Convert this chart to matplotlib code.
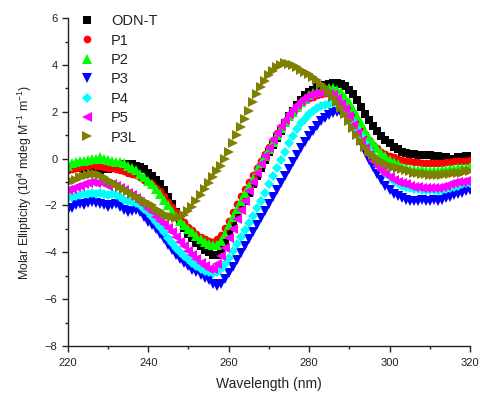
import numpy as np
import matplotlib
matplotlib.use("Agg")
import matplotlib.pyplot as plt
from matplotlib.ticker import MultipleLocator

plt.rcParams['font.family'] = ['Liberation Sans', 'DejaVu Sans']
plt.rcParams['mathtext.fontset'] = 'custom'
plt.rcParams['mathtext.rm'] = 'Liberation Sans'
plt.rcParams['mathtext.it'] = 'Liberation Sans:italic'

# --- data: wavelength 220..320 nm, 1 nm step ---
wavelength = list(range(220, 321))

odn_t = [-0.35, -0.4, -0.35, -0.4, -0.45, -0.4, -0.4, -0.45, -0.5, -0.45,
         -0.45, -0.4, -0.35, -0.3, -0.25, -0.25, -0.25, -0.3, -0.35, -0.45,
         -0.6, -0.75, -0.9, -1.1, -1.35, -1.65, -1.95, -2.3, -2.65, -2.95,
         -3.2, -3.4, -3.6, -3.75, -3.9, -4.0, -4.1, -4.1, -3.85, -3.55,
         -3.2, -2.85, -2.5, -2.15, -1.8, -1.45, -1.1, -0.75, -0.4, -0.05,
         0.3, 0.6, 0.9, 1.2, 1.5, 1.8, 2.05, 2.3, 2.5, 2.7,
         2.85, 2.95, 3.05, 3.1, 3.15, 3.2, 3.25, 3.25, 3.2, 3.1,
         2.95, 2.75, 2.5, 2.2, 1.9, 1.65, 1.4, 1.2, 0.95, 0.8,
         0.65, 0.5, 0.4, 0.3, 0.25, 0.2, 0.2, 0.15, 0.15, 0.15,
         0.15, 0.1, 0.1, 0.05, 0.05, 0.0, 0.0, 0.05, 0.05, 0.1, 0.1]

p1 = [-0.5, -0.45, -0.4, -0.35, -0.3, -0.3, -0.25, -0.3, -0.3, -0.35,
      -0.4, -0.4, -0.45, -0.5, -0.55, -0.6, -0.65, -0.7, -0.8, -0.9,
      -1.0, -1.1, -1.25, -1.4, -1.6, -1.85, -2.05, -2.3, -2.5, -2.7,
      -2.9, -3.05, -3.2, -3.35, -3.45, -3.5, -3.55, -3.45, -3.25, -2.95,
      -2.65, -2.3, -1.95, -1.6, -1.3, -1.0, -0.7, -0.4, -0.1, 0.2,
      0.5, 0.8, 1.1, 1.35, 1.6, 1.85, 2.05, 2.25, 2.4, 2.5,
      2.6, 2.65, 2.7, 2.75, 2.8, 2.8, 2.75, 2.7, 2.6, 2.45,
      2.2, 1.95, 1.65, 1.35, 1.05, 0.8, 0.6, 0.45, 0.3, 0.2,
      0.1, 0.05, 0.0, -0.05, -0.1, -0.1, -0.15, -0.15, -0.2, -0.2,
      -0.2, -0.2, -0.2, -0.2, -0.15, -0.15, -0.1, -0.1, -0.1, -0.1, -0.05]

p2 = [-0.3, -0.2, -0.15, -0.1, -0.1, -0.05, 0.0, 0.0, 0.05, 0.0,
      -0.05, -0.1, -0.15, -0.15, -0.2, -0.3, -0.4, -0.5, -0.65, -0.8,
      -0.95, -1.1, -1.3, -1.5, -1.75, -2.0, -2.25, -2.45, -2.65, -2.85,
      -3.0, -3.15, -3.3, -3.45, -3.55, -3.65, -3.7, -3.7, -3.5, -3.2,
      -2.85, -2.5, -2.15, -1.8, -1.45, -1.15, -0.85, -0.5, -0.2, 0.1,
      0.4, 0.7, 1.0, 1.3, 1.55, 1.8, 2.0, 2.2, 2.4, 2.55,
      2.7, 2.8, 2.85, 2.9, 2.95, 3.0, 3.0, 2.95, 2.85, 2.65,
      2.4, 2.1, 1.8, 1.5, 1.2, 0.9, 0.65, 0.45, 0.25, 0.1,
      -0.05, -0.15, -0.25, -0.35, -0.4, -0.45, -0.5, -0.5, -0.5, -0.55,
      -0.55, -0.55, -0.55, -0.5, -0.5, -0.45, -0.45, -0.4, -0.4, -0.4, -0.35]

p3 = [-2.2, -2.1, -2.0, -1.95, -2.0, -1.9, -1.85, -1.9, -1.95, -2.0,
      -2.05, -2.0, -1.95, -2.05, -2.2, -2.3, -2.25, -2.2, -2.3, -2.5,
      -2.7, -2.85, -3.0, -3.2, -3.45, -3.7, -3.9, -4.1, -4.3, -4.45,
      -4.6, -4.75, -4.85, -4.95, -5.1, -5.2, -5.35, -5.45, -5.35, -5.15,
      -4.9, -4.65, -4.35, -4.05, -3.75, -3.45, -3.15, -2.85, -2.55, -2.25,
      -1.95, -1.65, -1.35, -1.05, -0.75, -0.45, -0.15, 0.15, 0.45, 0.7,
      0.95, 1.2, 1.4, 1.6, 1.75, 1.85, 1.95, 2.0, 1.95, 1.85,
      1.6, 1.3, 1.0, 0.65, 0.3, -0.05, -0.35, -0.65, -0.9, -1.15,
      -1.35, -1.5, -1.6, -1.7, -1.75, -1.8, -1.8, -1.8, -1.75, -1.8,
      -1.8, -1.75, -1.8, -1.75, -1.7, -1.65, -1.55, -1.5, -1.45, -1.4, -1.35]

p4 = [-1.7, -1.65, -1.6, -1.55, -1.5, -1.5, -1.45, -1.5, -1.45, -1.5,
      -1.55, -1.5, -1.55, -1.65, -1.75, -1.8, -1.85, -1.9, -2.0, -2.15,
      -2.3, -2.5, -2.7, -2.9, -3.15, -3.4, -3.6, -3.8, -4.0, -4.15,
      -4.3, -4.45, -4.6, -4.7, -4.8, -4.85, -4.9, -4.85, -4.7, -4.5,
      -4.25, -3.95, -3.65, -3.35, -3.05, -2.75, -2.45, -2.1, -1.8, -1.45,
      -1.1, -0.75, -0.4, -0.05, 0.3, 0.65, 0.95, 1.25, 1.5, 1.7,
      1.9, 2.05, 2.15, 2.25, 2.3, 2.35, 2.4, 2.35, 2.25, 2.1,
      1.85, 1.55, 1.25, 0.95, 0.65, 0.35, 0.1, -0.15, -0.4, -0.6,
      -0.8, -0.95, -1.05, -1.15, -1.2, -1.25, -1.3, -1.3, -1.35, -1.35,
      -1.35, -1.35, -1.4, -1.35, -1.3, -1.25, -1.2, -1.15, -1.1, -1.05, -1.05]

p5 = [-1.35, -1.3, -1.2, -1.15, -1.1, -1.05, -1.0, -1.05, -1.0, -1.1,
      -1.15, -1.1, -1.15, -1.25, -1.35, -1.45, -1.55, -1.7, -1.85, -2.0,
      -2.15, -2.3, -2.5, -2.65, -2.8, -2.95, -3.15, -3.35, -3.55, -3.75,
      -3.95, -4.1, -4.3, -4.45, -4.6, -4.7, -4.7, -4.5, -4.15, -3.8,
      -3.4, -3.0, -2.6, -2.2, -1.8, -1.4, -1.0, -0.6, -0.25, 0.1,
      0.45, 0.8, 1.1, 1.4, 1.65, 1.9, 2.1, 2.3, 2.45, 2.6,
      2.7, 2.75, 2.8, 2.8, 2.8, 2.75, 2.7, 2.55, 2.35, 2.1,
      1.8, 1.45, 1.1, 0.75, 0.45, 0.15, -0.1, -0.3, -0.5, -0.65,
      -0.8, -0.9, -1.0, -1.05, -1.1, -1.15, -1.2, -1.2, -1.25, -1.25,
      -1.25, -1.25, -1.25, -1.2, -1.15, -1.1, -1.05, -1.0, -1.0, -0.95, -0.95]

p3l = [-1.05, -0.95, -0.9, -0.8, -0.75, -0.7, -0.65, -0.65, -0.7, -0.8,
       -0.9, -1.0, -1.1, -1.2, -1.3, -1.4, -1.5, -1.6, -1.7, -1.8,
       -1.9, -2.0, -2.15, -2.25, -2.35, -2.45, -2.5, -2.55, -2.5, -2.4,
       -2.25, -2.05, -1.8, -1.55, -1.3, -1.05, -0.8, -0.55, -0.3, 0.0,
       0.3, 0.65, 1.0, 1.35, 1.7, 2.05, 2.4, 2.75, 3.05, 3.3,
       3.55, 3.75, 3.9, 4.0, 4.1, 4.05, 4.0, 3.9, 3.8, 3.7,
       3.6, 3.5, 3.35, 3.2, 3.05, 2.85, 2.65, 2.4, 2.15, 1.9,
       1.6, 1.3, 1.0, 0.75, 0.5, 0.3, 0.15, 0.0, -0.1, -0.2,
       -0.3, -0.35, -0.4, -0.45, -0.5, -0.55, -0.6, -0.6, -0.65, -0.65,
       -0.7, -0.7, -0.7, -0.7, -0.65, -0.65, -0.6, -0.6, -0.6, -0.55, -0.55]

labels = ['ODN-T', 'P1', 'P2', 'P3', 'P4', 'P5', 'P3L']
series = [odn_t, p1, p2, p3, p4, p5, p3l]
colors = ['#000000', '#ff0000', '#00ff00', '#0000ff', '#00ffff', '#ff00ff', '#808000']
markers = ['s', 'o', '^', 'v', 'D', '<', '>']
sizes = [5.5, 5.5, 6.5, 6.5, 5.0, 6.5, 6.5]

fig = plt.figure(figsize=(4.81, 3.94), dpi=100)
ax = fig.add_axes([0.141, 0.122, 0.836, 0.832])

for y, lab, c, m, s in zip(series, labels, colors, markers, sizes):
    ax.plot(wavelength, y, linestyle='none', marker=m, color=c,
            markersize=s, markeredgewidth=0, label=lab)

ax.set_xlim(220, 320)
ax.set_ylim(-8, 6)
ax.xaxis.set_major_locator(MultipleLocator(20))
ax.xaxis.set_minor_locator(MultipleLocator(10))
ax.yaxis.set_major_locator(MultipleLocator(2))
ax.yaxis.set_minor_locator(MultipleLocator(1))

for side in ['top', 'right']:
    ax.spines[side].set_visible(False)
for side in ['left', 'bottom']:
    ax.spines[side].set_linewidth(1.0)
    ax.spines[side].set_color('#222222')

ax.tick_params(which='major', direction='out', length=4, width=1,
               labelsize=8, colors='#222222')
ax.tick_params(axis='x', which='major', pad=5)
ax.tick_params(which='minor', direction='out', length=2.5, width=1,
               colors='#222222')

ax.set_xlabel('Wavelength (nm)', fontsize=10, color='#222222', labelpad=6)
ax.set_ylabel('Molar Ellipticity (10$^4$ mdeg M$^{-1}$ m$^{-1}$)',
              fontsize=8.8, color='#222222', labelpad=8)

leg = ax.legend(loc='upper left', bbox_to_anchor=(0.027, 1.012), frameon=False,
                fontsize=10.5, handletextpad=1.0, labelspacing=0.37,
                handlelength=1.2, borderpad=0, borderaxespad=0)
for t in leg.get_texts():
    t.set_color('#222222')

fig.savefig('out.png', dpi=100)
